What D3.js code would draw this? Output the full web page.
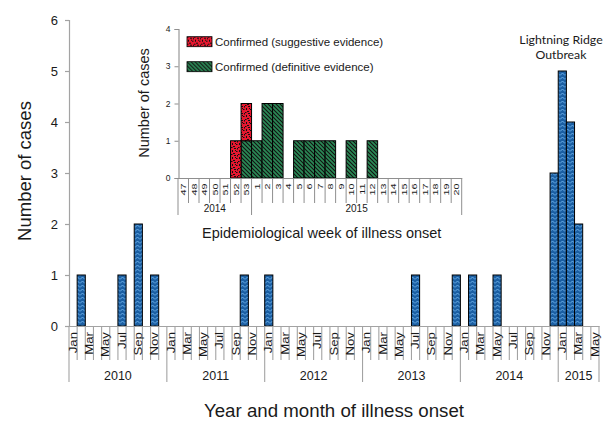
<!DOCTYPE html>
<html>
<head>
<meta charset="utf-8">
<script src="https://cdn.jsdelivr.net/npm/d3@7"></script>
<style>
  html, body { margin: 0; padding: 0; background: #fff; }
  svg { display: block; font-family: "Liberation Sans", Arial, sans-serif; }
</style>
</head>
<body>
<svg id="chart" width="606" height="421"></svg>
<script>
// ---------- DATA ----------
const years = [2010, 2011, 2012, 2013, 2014, 2015];
const monthNames = ["Jan","Feb","Mar","Apr","May","Jun","Jul","Aug","Sep","Oct","Nov","Dec"];
const monthsPerYear = [12, 12, 12, 12, 12, 5];
const cases2010 = [0,1,0,0,0,0,1,0,2,0,1,0];
const cases2011 = [0,0,0,0,0,0,0,0,0,1,0,0];
const cases2012 = [1,0,0,0,0,0,0,0,0,0,0,0];
const cases2013 = [0,0,0,0,0,0,1,0,0,0,0,1];
const cases2014 = [0,1,0,0,1,0,0,0,0,0,0,3];
const cases2015 = [5,4,2,0,0];
const yTicksMain = [0,1,2,3,4,5,6];

const weeks = ["47","48","49","50","51","52","53","1","2","3","4","5","6","7","8","9","10","11","12","13","14","15","16","17","18","19","20"];
const weekYears = [2014, 2015];
const weeksPerYear = [7, 20];
const suggestive = [0,0,0,0,0,1,1, 0,0,0,0,0,0,0,0,0,0,0,0,0,0,0,0,0,0,0,0];
const definitive = [0,0,0,0,0,0,1, 1,2,2,0,1,1,1,1,0,1,0,1,0,0,0,0,0,0,0,0];
const yTicksInset = [0,1,2,3,4];

// ---------- BUILD ----------
const allCases = [].concat(cases2010, cases2011, cases2012, cases2013, cases2014, cases2015);
const months = [];
years.forEach((y, yi) => {
  for (let m = 0; m < monthsPerYear[yi]; m++) months.push({ key: y + "-" + m, label: monthNames[m], m: m, year: y });
});
months.forEach((d, i) => d.value = allCases[i]);

const svg = d3.select("#chart");
const defs = svg.append("defs");

// zigzag blue pattern
const pz = defs.append("pattern").attr("id", "zig").attr("patternUnits", "userSpaceOnUse")
  .attr("width", 5).attr("height", 4);
pz.append("rect").attr("width", 5).attr("height", 4).attr("fill", "#1b5fa3");
pz.append("path").attr("d", "M0,3.5 L2.5,1 L5,3.5").attr("fill", "none")
  .attr("stroke", "#6aaee8").attr("stroke-width", 1);

// confetti red pattern
const pc = defs.append("pattern").attr("id", "conf").attr("patternUnits", "userSpaceOnUse")
  .attr("width", 7).attr("height", 7);
pc.append("rect").attr("width", 7).attr("height", 7).attr("fill", "#e8172f");
[[0,0,1.5,1],[3,1,2,1],[1,3,1,2],[5,4,1.5,1],[2,6,2,1],[6,1,1,1.5],[4,3,1,1]].forEach(r =>
  pc.append("rect").attr("x", r[0]).attr("y", r[1]).attr("width", r[2]).attr("height", r[3]).attr("fill", "#111"));

// diagonal green pattern
const pd = defs.append("pattern").attr("id", "diag").attr("patternUnits", "userSpaceOnUse")
  .attr("width", 4).attr("height", 4);
pd.append("rect").attr("width", 4).attr("height", 4).attr("fill", "#2a8a56");
pd.append("path").attr("d", "M-1,-1 L5,5 M-1,3 L1,5 M3,-1 L5,1").attr("stroke", "#111")
  .attr("stroke-width", 1.1);

// ---------- MAIN CHART ----------
const axisGray = "#a3a3a3";
const x = d3.scaleBand().domain(months.map(d => d.key)).range([69, 599]).padding(0);
const y = d3.scaleLinear().domain([0, 6]).range([326, 20]);

// bars
svg.append("g").selectAll("rect").data(months.filter(d => d.value > 0)).join("rect")
  .attr("x", d => x(d.key)).attr("y", d => y(d.value))
  .attr("width", x.bandwidth()).attr("height", d => y(0) - y(d.value))
  .attr("fill", "url(#zig)").attr("stroke", "#000").attr("stroke-width", 1);

// y axis
const yAxis = d3.axisLeft(y).tickValues(yTicksMain).tickSize(4).tickPadding(7).tickFormat(d3.format("d"));
const gy = svg.append("g").attr("transform", "translate(69,0)").call(yAxis);
gy.select(".domain").attr("stroke", axisGray).attr("stroke-width", 1.2);
gy.selectAll(".tick line").attr("stroke", axisGray).attr("stroke-width", 1.2);
gy.selectAll(".tick text").attr("font-size", 13).attr("fill", "#1a1a1a")
  .attr("font-family", "Liberation Sans, Arial, sans-serif");

// x axis: category baseline
const xAxis = d3.axisBottom(x).tickSize(0).tickFormat("");
const gx = svg.append("g").attr("transform", "translate(0,326)").call(xAxis);
gx.select(".domain").attr("stroke", axisGray).attr("stroke-width", 1.2);
gx.selectAll(".tick").remove();

// month separators
const gSep = svg.append("g").attr("stroke", axisGray).attr("stroke-width", 1.1);
const bounds = months.map(d => x(d.key)).concat([x.range()[1]]);
const yearStarts = [];
let acc = 0;
years.forEach((yv, yi) => { yearStarts.push(acc); acc += monthsPerYear[yi]; });
yearStarts.push(acc);
bounds.forEach((bx, i) => {
  const isYear = yearStarts.indexOf(i) >= 0;
  gSep.append("line").attr("x1", bx).attr("x2", bx).attr("y1", 326).attr("y2", isYear ? 382 : 360);
});

// month labels
svg.append("g").selectAll("text").data(months.filter(d => d.m % 2 === 0)).join("text")
  .attr("transform", d => `translate(${x(d.key) + x.bandwidth() / 2 + 3.6},332) rotate(-90) scale(1.3,1)`)
  .attr("text-anchor", "end").attr("font-size", 10.2).attr("fill", "#1a1a1a")
  .text(d => d.label);

// year labels
svg.append("g").selectAll("text").data(years).join("text")
  .attr("x", (d, i) => (bounds[yearStarts[i]] + bounds[yearStarts[i + 1]]) / 2)
  .attr("y", 380).attr("text-anchor", "middle").attr("font-size", 12.5).attr("fill", "#1a1a1a")
  .text(d => d);

// axis titles
svg.append("text").attr("x", 334).attr("y", 417).attr("text-anchor", "middle")
  .attr("font-size", 18.7).attr("fill", "#1a1a1a").text("Year and month of illness onset");
svg.append("text").attr("transform", "translate(31,171) rotate(-90)").attr("text-anchor", "middle")
  .attr("font-size", 18.5).attr("fill", "#1a1a1a").text("Number of cases");

// outbreak annotation
const ann = svg.append("text").attr("text-anchor", "middle").attr("font-family", "Lato, 'Open Sans', sans-serif")
  .attr("font-size", 12.3).attr("fill", "#1a1a1a");
ann.append("tspan").attr("x", 561).attr("y", 44).text("Lightning Ridge");
ann.append("tspan").attr("x", 561).attr("y", 58.5).text("Outbreak");

// ---------- INSET ----------
const insetGray = "#8f8f8f";
const xi = d3.scaleBand().domain(weeks.map((w, i) => i)).range([178, 461.7]).padding(0);
const yi = d3.scaleLinear().domain([0, 4]).range([178, 29]);

const stackData = weeks.map((w, i) => ({ i: i, definitive: definitive[i], suggestive: suggestive[i] }));
const stack = d3.stack().keys(["definitive", "suggestive"])(stackData);
const fills = { definitive: "url(#diag)", suggestive: "url(#conf)" };
svg.append("g").selectAll("g").data(stack).join("g").attr("fill", d => fills[d.key])
  .selectAll("rect").data(d => d.filter(s => s[1] - s[0] > 0)).join("rect")
  .attr("x", d => xi(d.data.i)).attr("y", d => yi(d[1]))
  .attr("width", xi.bandwidth()).attr("height", d => yi(d[0]) - yi(d[1]))
  .attr("stroke", "#000").attr("stroke-width", 1);

const yAxisI = d3.axisLeft(yi).tickValues(yTicksInset).tickSize(4).tickPadding(4).tickFormat(d3.format("d"));
const gyi = svg.append("g").attr("transform", "translate(178.5,0)").call(yAxisI);
gyi.select(".domain").attr("stroke", insetGray).attr("stroke-width", 1.1);
gyi.selectAll(".tick line").attr("stroke", insetGray);
gyi.selectAll(".tick text").attr("font-size", 8.5).attr("fill", "#1a1a1a")
  .attr("font-family", "Liberation Sans, Arial, sans-serif");

const gxi = svg.append("g").attr("transform", "translate(0,178)").call(d3.axisBottom(xi).tickSize(0).tickFormat(""));
gxi.select(".domain").attr("stroke", insetGray).attr("stroke-width", 1.1);
gxi.selectAll(".tick").remove();

const wBounds = weeks.map((w, i) => xi(i)).concat([xi.range()[1]]);
const wYearStarts = [0, weeksPerYear[0], weeksPerYear[0] + weeksPerYear[1]];
const gSepI = svg.append("g").attr("stroke", insetGray).attr("stroke-width", 1);
wBounds.forEach((bx, i) => {
  const isYear = wYearStarts.indexOf(i) >= 0;
  gSepI.append("line").attr("x1", bx).attr("x2", bx).attr("y1", 178).attr("y2", isYear ? 215 : 203);
});

svg.append("g").selectAll("text").data(weeks).join("text")
  .attr("transform", (d, i) => `translate(${xi(i) + xi.bandwidth() / 2 + 2.9},183.5) rotate(-90) scale(1.35,1)`)
  .attr("text-anchor", "end").attr("font-size", 8).attr("fill", "#1a1a1a")
  .text(d => d);

svg.append("g").selectAll("text").data(weekYears).join("text")
  .attr("x", (d, i) => (wBounds[wYearStarts[i]] + wBounds[wYearStarts[i + 1]]) / 2)
  .attr("y", 211.5).attr("text-anchor", "middle").attr("font-size", 10).attr("fill", "#1a1a1a")
  .text(d => d);

svg.append("text").attr("x", 321.7).attr("y", 237.5).attr("text-anchor", "middle")
  .attr("font-size", 14.5).attr("fill", "#1a1a1a").text("Epidemiological week of illness onset");
svg.append("text").attr("transform", "translate(149,103) rotate(-90)").attr("text-anchor", "middle")
  .attr("font-size", 14.5).attr("fill", "#1a1a1a").text("Number of cases");

// legend
const legendItems = [
  { key: "suggestive", label: "Confirmed (suggestive evidence)" },
  { key: "definitive", label: "Confirmed (definitive evidence)" }
];
const lg = svg.append("g").selectAll("g").data(legendItems).join("g")
  .attr("transform", (d, i) => `translate(187,${36.7 + i * 25})`);
lg.append("rect").attr("width", 25).attr("height", 10).attr("fill", d => fills[d.key])
  .attr("stroke", "#000").attr("stroke-width", 0.8);
lg.append("text").attr("x", 28).attr("y", 5).attr("dy", "0.35em").attr("font-size", 11.5)
  .attr("fill", "#1a1a1a").text(d => d.label);
</script>
</body>
</html>
